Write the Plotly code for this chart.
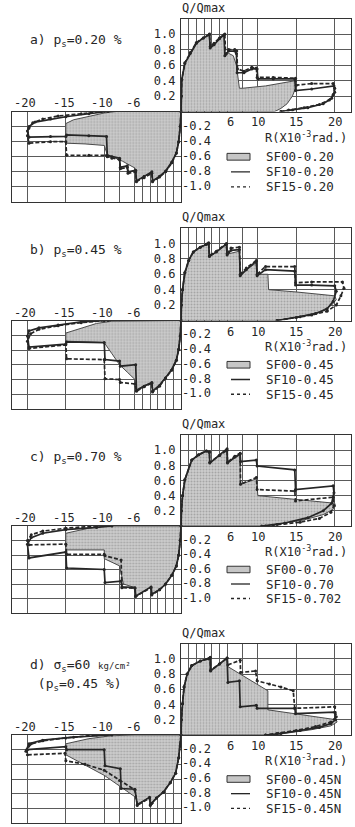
import plotly.graph_objects as go

W, H = 355, 827
FONT = "DejaVu Sans Mono"
INK = "#262626"

# ---------------- data (R in 1e-3 rad, Q/Qmax) ----------------
# panel a
A_SF00_UP_R = [0, 0.05, 0.1, 0.5, 1.2, 2.0, 2.9, 3.7, 3.8, 4.5, 5.6, 5.75, 6.2, 6.8, 7.2, 7.4, 7.6, 8.0, 11.0, 15.0, 14.9, 14.5, 13.8, 13.0, 12.2, 0]
A_SF00_UP_Q = [0, 0.2, 0.41, 0.63, 0.76, 0.89, 0.95, 1.0, 0.84, 0.88, 0.99, 0.72, 0.75, 0.72, 0.6, 0.45, 0.3, 0.3, 0.33, 0.4, 0.3, 0.2, 0.1, 0.04, 0.0, 0]
A_SF10_UP_R = [0, 0.05, 0.1, 0.5, 1.2, 2.0, 2.9, 3.7, 3.8, 4.3, 5.0, 5.6, 5.7, 6.2, 7.0, 7.2, 7.3, 8.2, 9.2, 9.9, 10.0, 12.0, 14.8, 14.9, 17.0, 19.9, 20.0, 19.6, 18.5, 16.5, 14.5, 13.0]
A_SF10_UP_Q = [0, 0.2, 0.41, 0.62, 0.75, 0.88, 0.95, 0.99, 0.82, 0.86, 0.94, 0.99, 0.72, 0.78, 0.78, 0.75, 0.5, 0.5, 0.55, 0.55, 0.42, 0.42, 0.42, 0.27, 0.29, 0.33, 0.25, 0.17, 0.1, 0.05, 0.02, 0.0]
A_SF15_UP_R = [0, 0.05, 0.1, 0.5, 1.2, 2.0, 2.9, 3.7, 3.8, 4.3, 5.0, 5.7, 5.8, 6.2, 7.0, 7.25, 7.35, 8.2, 9.2, 9.8, 9.9, 12.0, 14.9, 15.0, 17.0, 19.8, 20.0, 19.8, 19.3, 18.0, 16.0, 14.0, 13.0]
A_SF15_UP_Q = [0, 0.2, 0.41, 0.63, 0.76, 0.89, 0.95, 1.0, 0.84, 0.88, 0.95, 1.0, 0.74, 0.8, 0.8, 0.78, 0.55, 0.52, 0.57, 0.56, 0.44, 0.44, 0.43, 0.34, 0.36, 0.36, 0.3, 0.22, 0.15, 0.09, 0.05, 0.02, 0.0]
A_SF00_LO_R = [0, -0.1, -0.3, -0.6, -1.2, -2.0, -2.8, -3.7, -3.8, -4.8, -5.8, -6.0, -6.8, -7.6, -8.5, -9.5, -10.0, -12.5, -15.0, -15.0, -14.0, -12.0, -10.0, -8.5, 0]
A_SF00_LO_Q = [0, -0.2, -0.4, -0.55, -0.68, -0.8, -0.87, -0.93, -0.8, -0.86, -0.92, -0.75, -0.7, -0.66, -0.62, -0.6, -0.45, -0.43, -0.42, -0.16, -0.11, -0.06, -0.02, 0, 0]
A_SF10_LO_R = [0, -0.1, -0.3, -0.6, -1.2, -2.0, -2.8, -3.7, -3.8, -4.8, -5.8, -5.9, -6.9, -7.0, -7.9, -8.0, -9.0, -9.6, -9.7, -12.0, -14.9, -15.0, -17.0, -19.8, -20.0, -19.8, -19.0, -17.0, -15.0, -12.0, -9.5]
A_SF10_LO_Q = [0, -0.2, -0.4, -0.55, -0.67, -0.79, -0.86, -0.92, -0.8, -0.86, -0.92, -0.78, -0.8, -0.72, -0.74, -0.62, -0.6, -0.58, -0.33, -0.32, -0.31, -0.33, -0.33, -0.34, -0.26, -0.2, -0.14, -0.1, -0.07, -0.03, 0.0]
A_SF15_LO_R = [0, -0.1, -0.3, -0.6, -1.2, -2.0, -2.8, -3.7, -3.8, -4.8, -5.8, -5.9, -6.9, -7.0, -7.9, -8.0, -9.0, -9.6, -9.7, -12.0, -14.9, -15.0, -17.0, -19.8, -20.0, -19.8, -19.3, -18.0, -16.0, -13.0, -10.5]
A_SF15_LO_Q = [0, -0.2, -0.4, -0.55, -0.68, -0.8, -0.87, -0.93, -0.82, -0.88, -0.93, -0.8, -0.82, -0.74, -0.76, -0.64, -0.62, -0.6, -0.58, -0.58, -0.58, -0.4, -0.4, -0.42, -0.32, -0.22, -0.15, -0.1, -0.06, -0.03, 0.0]

# panel b
B_SF00_UP_R = [0, 0.05, 0.2, 0.5, 1.0, 1.6, 2.5, 3.3, 3.6, 3.7, 4.8, 5.9, 6.0, 7.6, 7.7, 9.8, 10.0, 11.3, 11.4, 15.0, 20.0, 20.2, 19.6, 18.0, 15.5, 12.5, 0]
B_SF00_UP_Q = [0, 0.2, 0.4, 0.62, 0.78, 0.89, 0.95, 0.99, 1.0, 0.83, 0.9, 1.0, 0.86, 0.9, 0.6, 0.75, 0.6, 0.6, 0.4, 0.37, 0.32, 0.27, 0.2, 0.11, 0.05, 0.0, 0]
B_SF10_UP_R = [0, 0.05, 0.2, 0.5, 1.0, 1.6, 2.5, 3.3, 3.6, 3.7, 4.6, 5.9, 6.0, 6.5, 7.6, 7.7, 8.5, 9.8, 9.9, 11.0, 14.8, 14.9, 17.0, 20.0, 20.2, 19.8, 19.0, 17.5, 15.5, 12.5]
B_SF10_UP_Q = [0, 0.2, 0.4, 0.62, 0.78, 0.89, 0.95, 0.99, 1.0, 0.83, 0.89, 0.99, 0.85, 0.91, 0.92, 0.58, 0.66, 0.77, 0.58, 0.66, 0.64, 0.46, 0.46, 0.45, 0.38, 0.25, 0.15, 0.09, 0.05, 0.0]
B_SF15_UP_R = [0, 0.05, 0.2, 0.5, 1.0, 1.6, 2.5, 3.3, 3.6, 3.7, 4.6, 5.9, 6.0, 6.5, 7.6, 7.7, 8.5, 9.8, 9.9, 11.0, 14.8, 14.9, 17.0, 21.0, 21.2, 20.8, 20.2, 19.0, 17.0, 15.0, 12.5]
B_SF15_UP_Q = [0, 0.2, 0.4, 0.62, 0.78, 0.89, 0.95, 0.99, 1.01, 0.84, 0.9, 1.0, 0.87, 0.94, 0.95, 0.6, 0.68, 0.78, 0.6, 0.7, 0.7, 0.49, 0.5, 0.5, 0.42, 0.32, 0.2, 0.12, 0.07, 0.04, 0.0]
B_SF00_LO_R = [0, -0.1, -0.3, -0.6, -1.2, -2.0, -2.8, -3.7, -3.8, -4.8, -5.8, -6.0, -7.0, -8.0, -9.0, -10.0, -12.5, -15.0, -15.0, -13.0, -11.0, -9.0, 0]
B_SF00_LO_Q = [0, -0.2, -0.38, -0.52, -0.65, -0.77, -0.87, -0.95, -0.84, -0.88, -0.94, -0.8, -0.7, -0.6, -0.45, -0.3, -0.29, -0.28, -0.17, -0.1, -0.04, -0.01, 0]
B_SF10_LO_R = [0, -0.1, -0.3, -0.6, -1.2, -2.0, -2.8, -3.7, -3.8, -4.8, -5.8, -5.9, -7.9, -8.0, -9.9, -10.0, -14.9, -15.0, -19.8, -20.0, -19.8, -18.5, -16.0, -13.0, -9.5]
B_SF10_LO_Q = [0, -0.21, -0.39, -0.54, -0.67, -0.78, -0.88, -0.96, -0.84, -0.89, -0.95, -0.6, -0.62, -0.55, -0.53, -0.3, -0.29, -0.32, -0.36, -0.21, -0.14, -0.1, -0.06, -0.02, 0.0]
B_SF15_LO_R = [0, -0.1, -0.3, -0.6, -1.2, -2.0, -2.8, -3.7, -3.8, -4.8, -5.8, -6.0, -7.9, -8.0, -9.9, -10.0, -14.9, -15.0, -19.8, -20.0, -19.6, -18.5, -16.0, -13.0, -10.0]
B_SF15_LO_Q = [0, -0.21, -0.39, -0.54, -0.67, -0.78, -0.89, -0.97, -0.85, -0.9, -0.96, -0.86, -0.84, -0.8, -0.79, -0.53, -0.52, -0.33, -0.38, -0.28, -0.18, -0.12, -0.07, -0.03, 0.0]

# panel c
C_SF00_UP_R = [0, 0.05, 0.2, 0.5, 1.4, 2.3, 3.3, 3.7, 3.7, 6.0, 6.0, 7.7, 7.7, 9.8, 10.0, 15.0, 20.0, 20.1, 19.8, 18.5, 16.0, 13.0, 11.0, 0]
C_SF00_UP_Q = [0, 0.2, 0.4, 0.61, 0.87, 0.94, 0.99, 0.98, 0.83, 1.02, 0.83, 0.94, 0.55, 0.62, 0.4, 0.35, 0.3, 0.26, 0.22, 0.15, 0.08, 0.03, 0.0, 0]
C_SF10_UP_R = [0, 0.05, 0.2, 0.5, 1.4, 2.3, 3.3, 3.7, 3.75, 5.0, 6.0, 6.05, 7.0, 7.7, 7.75, 9.8, 9.9, 14.8, 14.9, 19.8, 19.9, 19.6, 18.5, 16.5, 13.5, 10.5]
C_SF10_UP_Q = [0, 0.2, 0.4, 0.61, 0.87, 0.94, 0.99, 0.98, 0.83, 0.93, 1.02, 0.83, 0.91, 0.95, 0.85, 0.87, 0.79, 0.74, 0.48, 0.53, 0.44, 0.3, 0.2, 0.11, 0.04, 0.0]
C_SF15_UP_R = [0, 0.05, 0.2, 0.5, 1.4, 2.3, 3.3, 3.7, 3.75, 5.0, 6.0, 6.05, 7.0, 7.7, 7.75, 9.8, 9.9, 14.8, 14.9, 19.8, 19.9, 19.5, 18.0, 15.5, 12.5, 11.0]
C_SF15_UP_Q = [0, 0.2, 0.4, 0.61, 0.87, 0.94, 0.99, 0.97, 0.84, 0.93, 1.0, 0.84, 0.92, 0.96, 0.55, 0.64, 0.48, 0.46, 0.33, 0.38, 0.27, 0.18, 0.1, 0.05, 0.02, 0.0]
C_SF00_LO_R = [0, -0.1, -0.3, -0.6, -1.2, -2.0, -2.8, -3.8, -3.9, -5.9, -6.0, -7.5, -8.0, -10.0, -10.0, -15.0, -15.0, -12.0, -10.0, 0]
C_SF00_LO_Q = [0, -0.2, -0.4, -0.55, -0.68, -0.8, -0.88, -0.94, -0.84, -0.97, -0.85, -0.8, -0.55, -0.45, -0.33, -0.33, -0.1, -0.03, 0.0, 0]
C_SF10_LO_R = [0, -0.1, -0.3, -0.6, -1.2, -2.0, -2.8, -3.8, -3.9, -5.9, -6.0, -7.7, -7.8, -9.9, -10.0, -14.9, -15.0, -19.8, -20.0, -19.5, -18.0, -15.0, -11.0, -9.0]
C_SF10_LO_Q = [0, -0.2, -0.4, -0.55, -0.68, -0.8, -0.88, -0.94, -0.84, -0.97, -0.85, -0.84, -0.76, -0.78, -0.6, -0.58, -0.36, -0.44, -0.25, -0.16, -0.1, -0.05, -0.02, 0.0]
C_SF15_LO_R = [0, -0.1, -0.3, -0.6, -1.2, -2.0, -2.8, -3.8, -3.9, -5.9, -6.0, -7.7, -7.8, -9.9, -10.0, -14.9, -15.0, -19.8, -20.0, -19.5, -18.0, -15.0, -11.0]
C_SF15_LO_Q = [0, -0.2, -0.4, -0.55, -0.68, -0.8, -0.88, -0.95, -0.85, -0.97, -0.86, -0.85, -0.47, -0.41, -0.39, -0.39, -0.25, -0.26, -0.2, -0.12, -0.07, -0.03, 0.0]

# panel d
D_SF00_UP_R = [0, 0.05, 0.2, 0.4, 0.8, 1.4, 2.5, 3.6, 3.8, 3.8, 6.0, 6.05, 11.3, 11.3, 20.2, 20.3, 19.5, 17.0, 14.0, 12.0, 0]
D_SF00_UP_Q = [0, 0.2, 0.41, 0.63, 0.8, 0.91, 0.97, 1.0, 1.01, 0.84, 1.01, 0.9, 0.58, 0.33, 0.2, 0.17, 0.12, 0.07, 0.03, 0.0, 0]
D_SF10_UP_R = [0, 0.05, 0.2, 0.4, 0.8, 1.4, 2.5, 3.6, 3.8, 3.85, 5.0, 6.0, 6.1, 7.6, 7.7, 9.8, 9.9, 14.8, 14.9, 20.0, 20.1, 19.5, 18.0, 15.5, 13.0, 11.0]
D_SF10_UP_Q = [0, 0.2, 0.41, 0.63, 0.8, 0.91, 0.97, 1.0, 1.01, 0.84, 0.93, 1.01, 0.69, 0.71, 0.37, 0.39, 0.35, 0.35, 0.28, 0.3, 0.2, 0.15, 0.1, 0.06, 0.02, 0.0]
D_SF15_UP_R = [0, 0.05, 0.2, 0.4, 0.8, 1.4, 2.5, 3.6, 3.8, 3.85, 5.0, 6.0, 6.1, 7.7, 7.75, 9.7, 9.9, 11.5, 13.0, 14.6, 14.8, 20.0, 20.2, 19.5, 17.5, 15.0, 12.5, 11.0]
D_SF15_UP_Q = [0, 0.2, 0.41, 0.63, 0.8, 0.91, 0.97, 1.0, 1.02, 0.85, 0.93, 1.01, 0.92, 0.98, 0.82, 0.84, 0.71, 0.67, 0.63, 0.58, 0.35, 0.37, 0.24, 0.17, 0.11, 0.06, 0.02, 0.0]
D_SF00_LO_R = [0, -0.1, -0.3, -0.7, -1.4, -2.3, -3.2, -3.8, -4.0, -4.1, -5.7, -5.9, -10.0, -15.0, -15.0, -12.0, -9.0, -6.0, 0]
D_SF00_LO_Q = [0, -0.15, -0.31, -0.52, -0.65, -0.78, -0.86, -0.93, -0.95, -0.85, -0.95, -0.85, -0.55, -0.27, -0.12, -0.05, -0.01, 0.0, 0]
D_SF10_LO_R = [0, -0.1, -0.3, -0.7, -1.4, -2.3, -3.2, -3.8, -4.0, -4.1, -5.7, -6.0, -7.8, -7.9, -9.9, -10.0, -14.9, -15.0, -20.0, -20.2, -19.8, -18.0, -14.0, -9.0]
D_SF10_LO_Q = [0, -0.15, -0.31, -0.52, -0.65, -0.78, -0.86, -0.93, -0.95, -0.85, -0.95, -0.74, -0.73, -0.46, -0.42, -0.2, -0.2, -0.16, -0.2, -0.22, -0.12, -0.07, -0.03, 0.0]
D_SF15_LO_R = [0, -0.1, -0.3, -0.7, -1.4, -2.3, -3.2, -3.8, -4.0, -4.1, -5.7, -6.0, -8.0, -10.0, -12.5, -15.0, -15.1, -20.0, -20.1, -19.5, -18.0, -15.0, -11.0]
D_SF15_LO_Q = [0, -0.15, -0.31, -0.52, -0.65, -0.78, -0.86, -0.93, -0.96, -0.86, -0.96, -0.75, -0.62, -0.48, -0.4, -0.35, -0.25, -0.27, -0.2, -0.12, -0.08, -0.04, 0.0]

# tick values / labels
X_GRID_POS = [1, 2, 3, 4, 5, 6, 8, 10, 15, 20]
X_LABEL_POS = [6, 10, 15, 20]
X_GRID_NEG = [-20, -15, -10, -8, -6, -5, -4, -3, -2, -1]
X_LABEL_NEG = [-20, -15, -10, -6]
Y_TICKS_POS = [0.2, 0.4, 0.6, 0.8, 1.0]
Y_TEXT_POS = ["0.2", "0.4", "0.6", "0.8", "1.0"]
Y_TICKS_NEG = [-0.2, -0.4, -0.6, -0.8, -1.0]
Y_TEXT_NEG = ["-0.2", "-0.4", "-0.6", "-0.8", "-1.0"]

TITLES = [
    ["a) p<sub>s</sub>=0.20 %"],
    ["b) p<sub>s</sub>=0.45 %"],
    ["c) p<sub>s</sub>=0.70 %"],
    ["d) σ<sub>s</sub>=60 <span style='font-size:9px'>kg/cm²</span>", " (p<sub>s</sub>=0.45 %)"],
]
LEGENDS = [
    ["SF00-0.20", "SF10-0.20", "SF15-0.20"],
    ["SF00-0.45", "SF10-0.45", "SF15-0.45"],
    ["SF00-0.70", "SF10-0.70", "SF15-0.702"],
    ["SF00-0.45N", "SF10-0.45N", "SF15-0.45N"],
]

PANELS = [
    (A_SF00_UP_R, A_SF00_UP_Q, A_SF10_UP_R, A_SF10_UP_Q, A_SF15_UP_R, A_SF15_UP_Q,
     A_SF00_LO_R, A_SF00_LO_Q, A_SF10_LO_R, A_SF10_LO_Q, A_SF15_LO_R, A_SF15_LO_Q),
    (B_SF00_UP_R, B_SF00_UP_Q, B_SF10_UP_R, B_SF10_UP_Q, B_SF15_UP_R, B_SF15_UP_Q,
     B_SF00_LO_R, B_SF00_LO_Q, B_SF10_LO_R, B_SF10_LO_Q, B_SF15_LO_R, B_SF15_LO_Q),
    (C_SF00_UP_R, C_SF00_UP_Q, C_SF10_UP_R, C_SF10_UP_Q, C_SF15_UP_R, C_SF15_UP_Q,
     C_SF00_LO_R, C_SF00_LO_Q, C_SF10_LO_R, C_SF10_LO_Q, C_SF15_LO_R, C_SF15_LO_Q),
    (D_SF00_UP_R, D_SF00_UP_Q, D_SF10_UP_R, D_SF10_UP_Q, D_SF15_UP_R, D_SF15_UP_Q,
     D_SF00_LO_R, D_SF00_LO_Q, D_SF10_LO_R, D_SF10_LO_Q, D_SF15_LO_R, D_SF15_LO_Q),
]

# ---------------- layout geometry (pixels) ----------------
X_LEFT, X_ORIG, X_RIGHT = 11.7, 181.0, 350.5
TOPS = [18.5, 228.0, 435.0, 643.5]
ZEROS = [111.5, 320.5, 526.0, 735.0]
BOTS = [202.0, 409.0, 613.0, 823.0]
RMAX = 22.05


def px(x):
    return x / W


def py(y):
    return 1 - y / H


fig = go.Figure()
layout = dict(
    width=W, height=H, margin=dict(l=0, r=0, t=0, b=0), autosize=False,
    paper_bgcolor="white", plot_bgcolor="rgba(0,0,0,0)",
    showlegend=False, font=dict(family=FONT, size=12, color=INK),
)
shapes = []
annotations = []

FILL_PATTERN = dict(shape=".", fgcolor="#7d7d7d", bgcolor="#cdcdcd", size=3, solidity=0.35)
GRID = "#5a5a5a"
TICKFONT = dict(family=FONT, size=12, color=INK)


def axis_common():
    return dict(showline=True, mirror=True, linecolor="#333333", linewidth=1.2,
                showgrid=True, gridcolor=GRID, gridwidth=0.8, zeroline=False,
                ticks="", ticklen=0, tickfont=TICKFONT, tickmode="array", fixedrange=True)


for p, data in enumerate(PANELS):
    iu, il = 2 * p + 1, 2 * p + 2
    su = "" if iu == 1 else str(iu)
    sl = str(il)
    T, Z, B = TOPS[p], ZEROS[p], BOTS[p]

    xu = axis_common()
    xu.update(domain=[px(X_ORIG), px(X_RIGHT)], range=[0, RMAX], anchor="y" + su,
              tickvals=X_GRID_POS, showticklabels=False)
    yu = axis_common()
    yu.update(domain=[py(Z), py(T)], range=[0, 1.2], anchor="x" + su,
              tickvals=Y_TICKS_POS, ticktext=Y_TEXT_POS, side="left", ticklabelstandoff=2)
    xl = axis_common()
    xl.update(domain=[px(X_LEFT), px(X_ORIG)], range=[-RMAX, 0], anchor="y" + sl,
              tickvals=X_GRID_NEG, showticklabels=False)
    yl = axis_common()
    yl.update(domain=[py(B), py(Z)], range=[-1.2, 0], anchor="x" + sl,
              tickvals=Y_TICKS_NEG, showticklabels=False)
    layout["xaxis" + su] = xu
    layout["yaxis" + su] = yu
    layout["xaxis" + sl] = xl
    layout["yaxis" + sl] = yl

    (r00u, q00u, r10u, q10u, r15u, q15u, r00l, q00l, r10l, q10l, r15l, q15l) = data
    for (ax, ay, r00, q00, r10, q10, r15, q15) in [
        ("x" + su, "y" + su, r00u, q00u, r10u, q10u, r15u, q15u),
        ("x" + sl, "y" + sl, r00l, q00l, r10l, q10l, r15l, q15l),
    ]:
        fig.add_trace(go.Scatter(x=r00, y=q00, xaxis=ax, yaxis=ay, mode="lines",
                                 fill="toself", fillcolor="#c6c6c6", fillpattern=FILL_PATTERN,
                                 line=dict(color="#4a4a4a", width=1.0), hoverinfo="skip"))
        fig.add_trace(go.Scatter(x=r10, y=q10, xaxis=ax, yaxis=ay, mode="lines+markers",
                                 line=dict(color=INK, width=1.7),
                                 marker=dict(size=3, color=INK), hoverinfo="skip"))
        fig.add_trace(go.Scatter(x=r15, y=q15, xaxis=ax, yaxis=ay, mode="lines+markers",
                                 line=dict(color=INK, width=1.7, dash="4px,2px"),
                                 marker=dict(size=3, color=INK), hoverinfo="skip"))

    # tick labels placed at axis coordinates
    for v in X_LABEL_POS:
        annotations.append(dict(text=str(v), x=v, y=0, xref="x" + su, yref="y" + su,
                                xanchor="center", yanchor="top", yshift=-2,
                                xshift=3 if v == 6 else 0, showarrow=False, font=TICKFONT))
    for v in X_LABEL_NEG:
        annotations.append(dict(text=str(v), x=v, y=0, xref="x" + sl, yref="y" + sl,
                                xanchor="center", yanchor="bottom", yshift=-1,
                                xshift=-2, showarrow=False, font=TICKFONT))
    for v, t in zip(Y_TICKS_NEG, Y_TEXT_NEG):
        annotations.append(dict(text=t, x=0, y=v, xref="x" + sl, yref="y" + sl,
                                xanchor="left", yanchor="middle", xshift=-1, yshift=1,
                                showarrow=False, font=TICKFONT))

    # axis captions
    annotations.append(dict(text="Q/Qmax", x=px(X_ORIG - 1), y=py(T - 2), xref="paper", yref="paper",
                            xanchor="left", yanchor="bottom", showarrow=False,
                            font=dict(family=FONT, size=12, color=INK)))
    annotations.append(dict(text="R(X10<sup>-3</sup>rad.)", x=px(349), y=py(Z + 25), xref="paper",
                            yref="paper", xanchor="right", yanchor="middle", showarrow=False,
                            font=dict(family=FONT, size=12, color=INK)))
    # panel titles
    for k, line in enumerate(TITLES[p]):
        annotations.append(dict(text=line, x=px(28), y=py(T + 22 + 19 * k), xref="paper", yref="paper",
                                xanchor="left", yanchor="middle", showarrow=False,
                                font=dict(family=FONT, size=13, color=INK)))
    # legend
    ylab = "y" + sl
    rows = [-0.6, -0.8, -1.0]
    shapes.append(dict(type="rect", xref="paper", yref=ylab, x0=px(227), x1=px(250),
                       y0=rows[0] - 0.045, y1=rows[0] + 0.045, line=dict(color="#333", width=1),
                       fillcolor="#c6c6c6"))
    shapes.append(dict(type="line", xref="paper", yref=ylab, x0=px(231), x1=px(250),
                       y0=rows[1], y1=rows[1], line=dict(color=INK, width=1.3)))
    shapes.append(dict(type="line", xref="paper", yref=ylab, x0=px(231), x1=px(250),
                       y0=rows[2], y1=rows[2], line=dict(color=INK, width=1.3, dash="dot")))
    for k in range(3):
        annotations.append(dict(text=LEGENDS[p][k], x=px(264), y=rows[k], xref="paper", yref=ylab,
                                xanchor="left", yanchor="middle", showarrow=False,
                                font=dict(family=FONT, size=12.5, color=INK)))

layout["shapes"] = shapes
layout["annotations"] = annotations
fig.update_layout(**layout)
fig.write_html("out.html", config={"displayModeBar": False},
               post_script="document.body.style.margin='0px';document.body.style.padding='0px';"
                           "document.documentElement.style.overflow='hidden';")
